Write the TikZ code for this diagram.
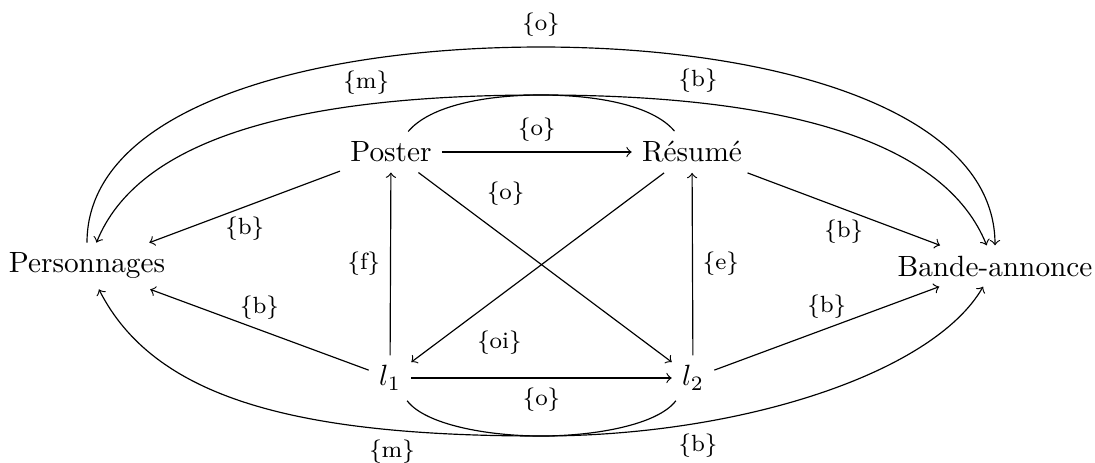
\documentclass[tikz,border=0pt]{standalone}
\begin{document}
\begin{tikzpicture}[x=0.3413pt,y=-0.3413pt,
  lbl/.style={font=\footnotesize},
  arr/.style={->}]
\useasboundingbox (0,0) rectangle (1095,462);
\node (P) at (87,266) {Personnages};
\node (Po) at (391,152) {Poster};
\node (R) at (692,152) {Résumé};
\node (BA) at (995,266) {Bande-annonce};
\node (l1) at (390,378) {$l_1$};
\node (l2) at (693,378) {$l_2$};
\coordinate (tm) at (541,95);
\coordinate (ot) at (541,47);
\coordinate (bm) at (541,436);

\draw[arr] (Po) -- node[lbl,above]{\{o\}} (R);
\draw[arr] (Po) -- node[lbl,below]{\{b\}} (P);
\draw[arr] (l1) -- node[lbl,above]{\{b\}} (P);
\draw[arr] (l1) -- node[lbl,left]{\{f\}} (Po);
\draw[arr] (l2) -- node[lbl,right]{\{e\}} (R);
\draw[arr] (R) -- node[lbl,below]{\{b\}} (BA);
\draw[arr] (l2) -- node[lbl,above]{\{b\}} (BA);
\draw[arr] (Po) -- node[lbl,pos=0.23,above right]{\{o\}} (l2);
\draw[arr] (R) -- node[lbl,pos=0.78,below right]{\{oi\}} (l1);
\draw[arr] (l1) -- node[lbl,below]{\{o\}} (l2);

\draw[arr] (R) to[out=130,in=0,out looseness=0.64,in looseness=1] (tm)
  to[out=180,in=68,out looseness=1.36,in looseness=0.6] node[lbl,pos=0.26,above]{\{m\}} (P);
\draw[arr] (Po) to[out=50,in=180,out looseness=0.64,in looseness=1] (tm)
  to[out=0,in=112,out looseness=1.36,in looseness=0.6] node[lbl,pos=0.23,above]{\{b\}} (BA);
\draw[arr] (P) to[out=90,in=180,out looseness=0.7,in looseness=1.2] (ot) node[lbl,above]{\{o\}}
  to[out=0,in=90,out looseness=1.2,in looseness=0.7] (BA);
\draw[arr] (l1) to[out=-53,in=180,out looseness=0.55,in looseness=1] (bm)
  to[out=0,in=240,out looseness=1.09,in looseness=0.55] node[lbl,pos=0.27,below]{\{b\}} (BA);
\draw[arr] (l2) to[out=233,in=0,out looseness=0.55,in looseness=1] (bm)
  to[out=180,in=297,out looseness=1.37,in looseness=0.66] node[lbl,pos=0.22,below]{\{m\}} (P);
\end{tikzpicture}
\end{document}
